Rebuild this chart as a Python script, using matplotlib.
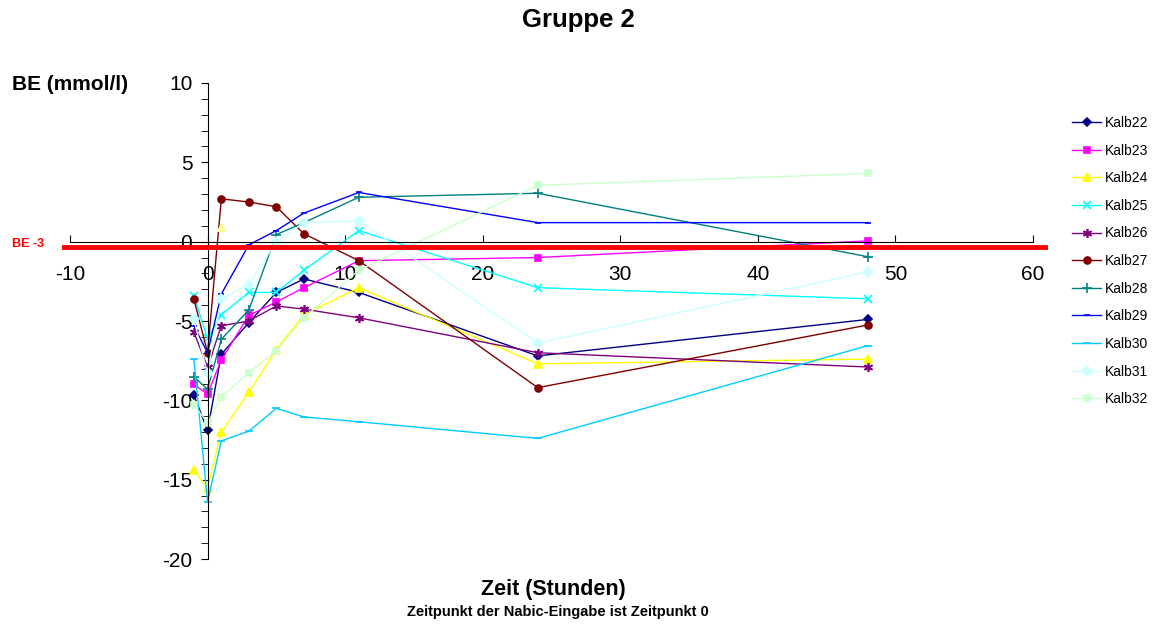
import matplotlib
matplotlib.use("Agg")
import matplotlib.pyplot as plt

plt.rcParams['font.family'] = ['Liberation Sans', 'DejaVu Sans']
plt.rcParams['axes.unicode_minus'] = False

# --- Daten (BE in mmol/l) ---
zeit = [-1, 0, 1, 3, 5, 7, 11, 24, 48]

kalb22 = [-9.65, -11.9, -7.1, -5.1, -3.2, -2.35, -3.2, -7.2, -4.9]
kalb23 = [-9.0, -9.6, -7.45, -4.65, -3.8, -2.9, -1.2, -1.0, 0.05]
kalb24 = [-14.4, -15.5, -12.0, -9.5, -6.8, -4.6, -2.9, -7.7, -7.4]
kalb25 = [-3.4, -6.1, -4.6, -3.2, -3.2, -1.8, 0.7, -2.9, -3.6]
kalb26 = [-5.7, -7.9, -5.3, -5.0, -4.05, -4.25, -4.8, -7.0, -7.9]
kalb27 = [-3.6, -7.0, 2.7, 2.5, 2.2, 0.5, -1.2, -9.2, -5.25]
kalb28 = [-8.5, -9.3, -6.15, -4.3, 0.45, 1.2, 2.8, 3.05, -0.95]
kalb29 = [-5.3, -7.0, -3.3, -0.2, 0.7, 1.8, 3.1, 1.2, 1.2]
kalb30 = [-7.4, -16.4, -12.55, -11.95, -10.5, -11.05, -11.35, -12.4, -6.55]
kalb31 = [-4.9, -8.3, -3.6, -2.7, 0.0, 1.2, 1.3, -6.4, -1.9]
kalb32 = [-10.3, -11.4, -9.8, -8.25, -6.9, -4.8, -1.8, 3.55, 4.3]

# einzelner blasser Punkt bei t=1
extra_x = [1]
extra_y = [0.93]

be_grenze = -0.33

serien = [
    ("Kalb22", kalb22, "#000080", "D", 4.5),
    ("Kalb23", kalb23, "#ff00ff", "s", 5),
    ("Kalb24", kalb24, "#ffff00", "^", 6),
    ("Kalb25", kalb25, "#00ffff", "x", 5.5),
    ("Kalb26", kalb26, "#800080", (6, 2, 0), 6.5),
    ("Kalb27", kalb27, "#800000", "o", 5),
    ("Kalb28", kalb28, "#008080", "+", 6.5),
    ("Kalb29", kalb29, "#0000ff", "_", 4),
    ("Kalb30", kalb30, "#00ccff", "_", 6),
    ("Kalb31", kalb31, "#ccffff", "D", 5),
    ("Kalb32", kalb32, "#ccffcc", "s", 5),
]

fig = plt.figure(figsize=(11.57, 6.24), dpi=100)
ax = fig.add_axes([70 / 1157, 1 - 559 / 624, (1033 - 70) / 1157, (559 - 83) / 624])

for name, werte, farbe, marker, ms in serien:
    ax.plot(zeit, werte, color=farbe, marker=marker, markersize=ms,
            markeredgewidth=1.2, linewidth=1.0, label=name, clip_on=False)

ax.plot(extra_x, extra_y, linestyle="none", marker="^", markersize=6,
        color="#ffff99", clip_on=False)

ax.axhline(be_grenze, xmin=-0.006, xmax=1.012, color="#ff0000",
           linewidth=3.5, clip_on=False, zorder=5)

ax.set_xlim(-10, 60)
ax.set_ylim(-20, 10)

ax.spines['left'].set_position(('data', 0))
ax.spines['bottom'].set_position(('data', 0))
ax.spines['top'].set_visible(False)
ax.spines['right'].set_visible(False)

ax.set_xticks(range(-10, 61, 10))
ax.set_yticks(range(-20, 11, 5))
ax.set_yticks(range(-20, 11, 1), minor=True)
ax.tick_params(axis='x', direction='in', length=5, pad=17, labelsize=15)
ax.tick_params(axis='y', which='major', direction='out', length=5, pad=6, labelsize=15)
ax.tick_params(axis='y', which='minor', direction='out', length=5)
ax.tick_params(axis='x', which='minor', bottom=False)

fig.text(0.5, 1 - 20 / 624, "Gruppe 2", ha="center", va="center",
         fontsize=18.5, fontweight="bold")
fig.text(12 / 1157, 1 - 85 / 624, "BE (mmol/l)", ha="left", va="center",
         fontsize=15, fontweight="bold")
fig.text(12 / 1157, 1 - 244 / 624, "BE -3", ha="left", va="center",
         fontsize=9, fontweight="bold", color="#ff0000")
fig.text(553 / 1157, 1 - 590 / 624, "Zeit (Stunden)", ha="center", va="center",
         fontsize=15.5, fontweight="bold")
fig.text(558 / 1157, 1 - 612 / 624, "Zeitpunkt der Nabic-Eingabe ist Zeitpunkt 0",
         ha="center", va="center", fontsize=10.5, fontweight="bold")

fig.legend(loc="upper left", bbox_to_anchor=(1072 / 1157, 1 - 116 / 624),
           frameon=False, fontsize=10, handlelength=2.1, handletextpad=0.3,
           labelspacing=0.98, borderpad=0, borderaxespad=0)

fig.savefig("out.png", dpi=100)
